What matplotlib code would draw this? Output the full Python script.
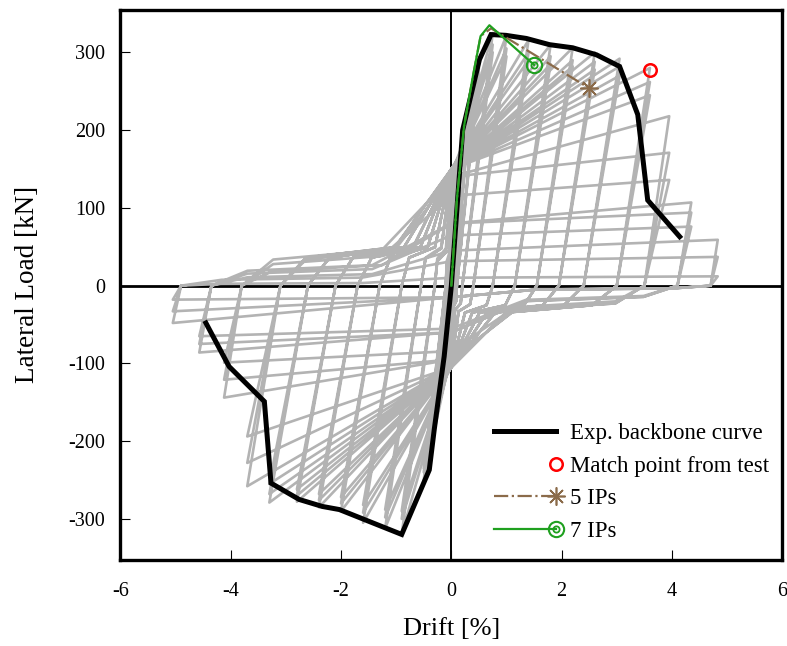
import numpy as np
import matplotlib
matplotlib.use('Agg')
import matplotlib.pyplot as plt
from matplotlib.legend_handler import HandlerTuple, HandlerLine2D

plt.rcParams['font.family'] = ['Liberation Serif', 'DejaVu Serif']
plt.rcParams['axes.unicode_minus'] = False

# ---- cyclic test data: 3 cycles per drift level (peaks) ----
pos_drift = [0.2, 0.35, 0.5, 0.75, 1.0, 1.4, 1.8, 2.2, 2.6, 3.05, 3.6, 3.95, 4.35, 4.83]
pos_load = [[190, 185, 180], [250, 240, 235], [290, 280, 275], [325, 310, 300],
            [322, 305, 295], [316, 300, 290], [310, 295, 285], [306, 290, 282],
            [300, 288, 278], [292, 282, 270], [280, 262, 245], [218, 171, 136],
            [107, 94, 76], [59, 37, 12]]
pos_zero = [0.03, 0.06, 0.1, 0.2, 0.4, 0.75, 1.15, 1.55, 1.95, 2.4, 3.0, 3.5, 4.1, 4.7]
pos_pinch = [60, 90, 110, 130, 145, 150, 150, 150, 150, 150, 150, 140, 80, 45]

neg_drift = [-0.2, -0.35, -0.5, -0.9, -1.2, -1.6, -2.0, -2.4, -2.8, -3.3, -3.7, -4.12, -4.57, -5.05]
neg_load = [[-130, -125, -120], [-200, -190, -185], [-250, -240, -235], [-320, -300, -290],
            [-312, -298, -288], [-305, -292, -282], [-290, -280, -272], [-285, -276, -268],
            [-278, -270, -262], [-279, -268, -255], [-258, -228, -194], [-144, -121, -99],
            [-86, -75, -65], [-48, -33, -18]]
neg_zero = [-0.03, -0.06, -0.1, -0.3, -0.55, -0.9, -1.3, -1.7, -2.1, -2.6, -3.1, -3.8, -4.35, -4.9]
neg_pinch = [-50, -70, -85, -95, -100, -105, -105, -105, -105, -105, -105, -95, -60, -15]

# experimental backbone
bb_drift = [-4.45, -4.03, -3.39, -3.27, -2.76, -2.34, -2.03, -1.43, -0.9, -0.4, -0.31, -0.13, 0,
            0.205, 0.51, 0.72, 0.99, 1.36, 1.78, 2.2, 2.63, 3.05, 3.38, 3.56, 4.14]
bb_load = [-48, -104, -149, -254, -275, -284, -288, -305, -320, -237, -185, -91, 0,
           200, 291, 323, 322, 318, 310, 306, 297, 282, 220, 110, 63]

# model results
ip5_drift = [0, 0.1, 0.23, 0.39, 0.53, 0.72, 2.5]
ip5_load = [0, 111, 205, 269, 321, 331, 254]
ip7_drift = [0, 0.1, 0.23, 0.39, 0.53, 0.69, 1.5]
ip7_load = [0, 111, 205, 269, 321, 335, 284]
match_drift = [3.6]
match_load = [278]


def hysteresis_path():
    xs, ys = [0.0], [0.0]
    zn = 0.0
    for i in range(len(pos_drift)):
        for k in range(3):
            # reload towards positive peak through the pinched zone
            pp = min(pos_pinch[i], 0.85 * pos_load[i][k])
            xs += [0.85 * zn, 0.33 * zn, 0.0, pos_drift[i], pos_zero[i]]
            ys += [0.24 * pp, 0.33 * pp, pp, pos_load[i][k], 0.0]
            zp = pos_zero[i]
            pn = max(neg_pinch[i], 0.85 * neg_load[i][k])
            xs += [0.85 * zp, 0.33 * zp, 0.0, neg_drift[i], neg_zero[i]]
            ys += [0.24 * pn, 0.33 * pn, pn, neg_load[i][k], 0.0]
            zn = neg_zero[i]
    return xs, ys


class EndMarker(HandlerLine2D):
    # legend marker at the right end of the sample line
    def create_artists(self, *args, **kw):
        arts = super().create_artists(*args, **kw)
        for a in arts:
            a.set_markevery([-1])
        return arts


fig = plt.figure(figsize=(7.87, 6.46), dpi=100)
ax = fig.add_axes([0.153, 0.133, 0.841, 0.852])

ax.axhline(0, color='k', lw=2.0, zorder=1)
ax.axvline(0, color='k', lw=1.4, zorder=1)

hx, hy = hysteresis_path()
ax.plot(hx, hy, color='#b3b3b3', lw=1.9, zorder=2, solid_joinstyle='round')

bb, = ax.plot(bb_drift, bb_load, color='k', lw=3.6, zorder=4,
              solid_joinstyle='miter')
mp, = ax.plot(match_drift, match_load, ls='none', marker='o', ms=9, mfc='none',
              mec='#ff0000', mew=1.8, zorder=7)
l5, = ax.plot(ip5_drift, ip5_load, color='#8b6b4a', lw=1.6, ls='-.', zorder=5,
              marker=(8, 2, 0), ms=13, mew=1.2, markevery=[-1])
l7, = ax.plot(ip7_drift, ip7_load, color='#1fa01f', lw=1.6, zorder=6,
              marker='o', ms=11, mfc='none', mew=1.5, markevery=[-1])
l7b, = ax.plot(ip7_drift[-1:], ip7_load[-1:], ls='none', color='#1fa01f',
               marker='o', ms=4.5, mfc='none', mew=1.3, zorder=6)

ax.set_xlim(-6, 6)
ax.set_ylim(-353, 355)
ax.set_xticks([-6, -4, -2, 0, 2, 4, 6])
ax.set_yticks([-300, -200, -100, 0, 100, 200, 300])
ax.tick_params(direction='in', length=7, width=0.8, labelsize=14.5,
               top=False, right=False)
ax.tick_params(axis='x', pad=16)
ax.tick_params(axis='y', pad=11)
for s in ax.spines.values():
    s.set_linewidth(2.4)

ax.set_xlabel('Drift [%]', fontsize=19, labelpad=12)
ax.set_ylabel('Lateral Load [kN]', fontsize=19.5, labelpad=20)

ax.legend([bb, mp, l5, (l7, l7b)],
          ['Exp. backbone curve', 'Match point from test', '5 IPs', '7 IPs'],
          handler_map={tuple: HandlerTuple(ndivide=1), mp: EndMarker(),
                       l5: EndMarker(), l7: EndMarker(), l7b: EndMarker()},
          loc='lower right', bbox_to_anchor=(1.008, 0.0), frameon=False,
          fontsize=16.5, handlelength=2.7, handletextpad=0.6,
          labelspacing=0.5, borderaxespad=0.5, borderpad=0.3)

fig.savefig('out.png', dpi=100)
